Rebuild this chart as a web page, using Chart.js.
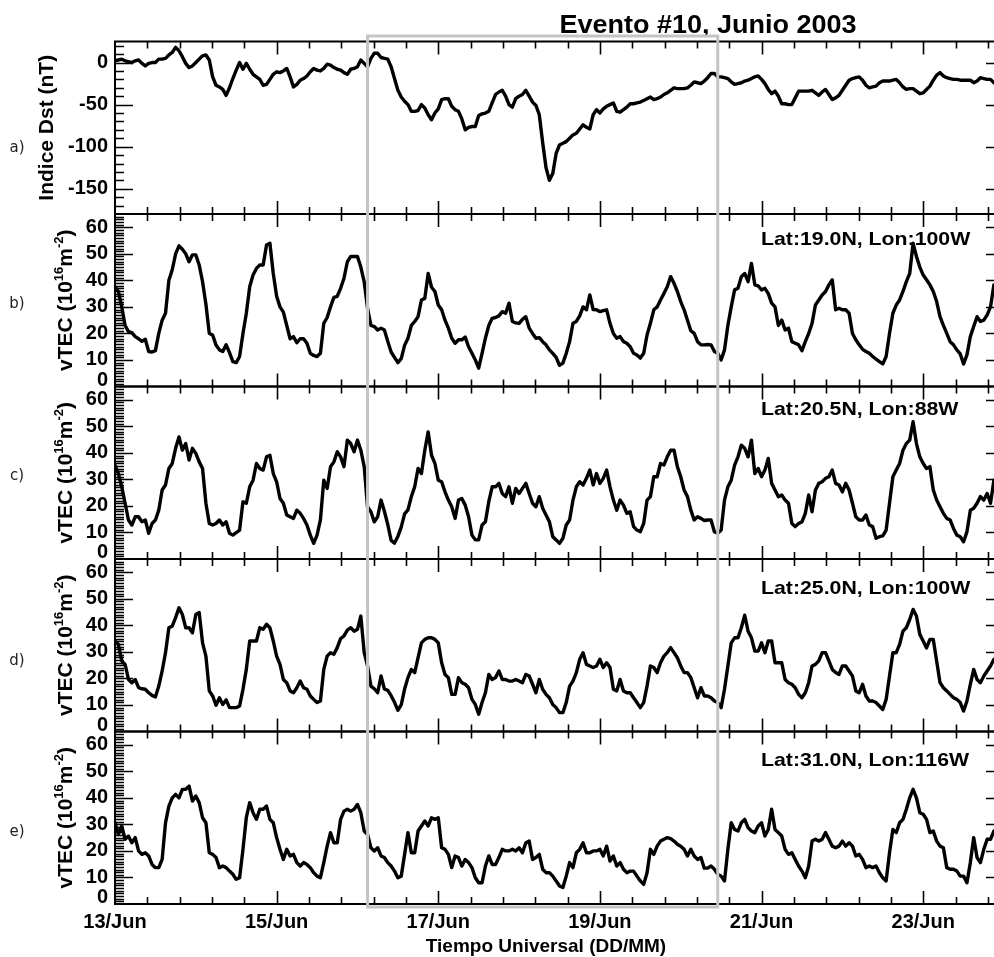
<!DOCTYPE html>
<html>
<head>
<meta charset="utf-8">
<title>Evento #10, Junio 2003</title>
<script src="https://cdn.jsdelivr.net/npm/chart.js@4.4.1/dist/chart.umd.min.js"></script>
<style>
  html, body { margin: 0; padding: 0; background: #fff; overflow: hidden; }
  #fig { position: relative; width: 1010px; height: 957px; }
  #fig canvas { position: absolute; left: 0; top: 0; }
</style>
</head>
<body>
<div id="fig">
  <canvas id="dstChart" width="1010" height="957"></canvas>
  <canvas id="tecB" width="1010" height="957"></canvas>
  <canvas id="tecC" width="1010" height="957"></canvas>
  <canvas id="tecD" width="1010" height="957"></canvas>
  <canvas id="tecE" width="1010" height="957"></canvas>
</div>
<script>
// hourly values starting 13/Jun 00 UT
const dst = [
  2,3,4,2,1,0,2,3,-1,-4,
  -1,0,0,4,4,5,9,12,18,14,
  7,-1,-6,-4,0,4,8,9,3,-17,
  -27,-29,-32,-39,-30,-19,-9,0,-8,-1,
  -8,-14,-17,-20,-27,-26,-20,-14,-11,-12,
  -10,-7,-17,-29,-26,-21,-19,-16,-11,-7,
  -9,-10,-7,-2,-3,-6,-8,-9,-12,-14,
  -8,-7,-5,3,-1,-5,5,11,11,6,
  5,4,-5,-19,-33,-41,-46,-50,-58,-58,
  -57,-50,-54,-62,-68,-60,-55,-44,-43,-43,
  -52,-56,-58,-67,-80,-77,-76,-76,-63,-61,
  -60,-58,-48,-38,-35,-33,-40,-50,-53,-43,
  -40,-38,-33,-40,-47,-51,-62,-95,-125,-140,
  -132,-108,-98,-96,-94,-90,-86,-84,-79,-74,
  -77,-79,-62,-56,-60,-55,-52,-50,-48,-58,
  -59,-56,-53,-49,-49,-48,-47,-45,-43,-41,
  -44,-43,-41,-38,-36,-33,-30,-31,-31,-31,
  -30,-27,-23,-24,-25,-22,-18,-13,-13,-17,
  -17,-18,-19,-23,-26,-25,-24,-22,-21,-19,
  -17,-16,-20,-25,-32,-37,-34,-40,-49,-49,
  -50,-50,-42,-34,-34,-34,-34,-33,-36,-39,
  -35,-32,-38,-44,-42,-39,-33,-27,-21,-19,
  -18,-17,-21,-27,-30,-29,-28,-24,-22,-22,
  -22,-21,-20,-24,-29,-32,-31,-31,-34,-37,
  -36,-32,-28,-21,-15,-12,-16,-18,-19,-20,
  -20,-21,-21,-21,-21,-24,-22,-18,-19,-20,
  -20,-24,-25,-25
];

// vTEC, 10^16 m^-2, one value per hour
const tec19N100W = [
  37.6,35.8,30.0,23.0,20.7,20.3,18.8,18.0,17.0,17.8,
  13.2,13.0,13.5,20.0,25.0,27.6,40.0,44.0,50.0,53.0,
  51.7,50.0,47.0,49.6,49.6,45.8,39.5,31.0,20.0,19.4,
  15.6,13.8,13.2,15.7,12.8,9.4,9.0,11.3,20.0,27.6,
  37.6,42.0,44.5,45.8,45.8,53.3,54.0,42.6,34.0,30.0,
  28.0,23.0,18.0,18.8,16.5,18.0,18.0,16.3,12.5,11.7,
  11.3,12.5,23.8,26.0,30.0,33.6,34.0,37.0,40.8,47.0,
  49.0,49.0,49.0,45.0,39.4,29.5,23.0,22.6,21.3,22.0,
  21.3,17.0,13.0,11.0,9.0,10.5,15.5,18.2,23.0,24.5,
  26.3,32.6,33.2,42.6,37.4,35.8,30.7,28.9,25.0,22.0,
  18.2,16.3,17.6,17.6,18.6,15.0,12.5,10.0,6.9,12.5,
  18.2,23.0,25.7,26.0,26.6,28.2,27.6,31.4,24.5,24.0,
  23.8,25.3,26.3,22.0,20.0,18.2,18.4,16.9,15.7,13.8,
  12.5,11.0,8.0,8.8,12.5,16.9,23.8,24.5,26.6,30.0,
  28.9,34.5,29.0,28.9,28.2,28.6,28.9,23.8,20.0,18.2,
  18.8,16.9,16.3,15.0,12.5,11.9,10.7,12.5,19.4,23.8,
  28.9,30.0,32.6,35.0,37.6,41.4,38.9,35.8,32.0,28.9,
  25.0,21.0,20.0,16.9,15.7,15.7,15.8,15.7,13.2,12.5,
  10.0,13.8,23.0,30.0,36.4,37.0,41.4,42.6,39.5,46.4,
  38.3,37.9,36.4,37.0,35.0,31.4,30.0,23.0,25.0,21.3,
  22.0,16.9,16.3,15.7,13.5,16.9,20.0,23.8,30.7,32.6,
  34.5,35.8,38.3,40.2,28.9,29.5,28.9,28.9,27.6,20.0,
  17.6,15.7,14.0,13.2,12.5,11.3,10.3,9.4,8.5,11.3,
  20.0,27.6,30.7,32.6,35.8,39.5,42.6,54.0,49.0,45.0,
  42.0,40.2,38.3,35.8,32.0,26.3,23.0,20.0,16.9,15.7,
  13.8,12.3,8.5,11.9,18.8,22.6,26.3,24.5,25.0,27.0,
  30.0,38.3,38.0,39.0
];

const tec20N88W = [
  35.4,32.2,27.2,21.0,14.7,12.8,15.9,15.9,14.0,14.7,
  9.7,13.4,14.7,18.4,26.0,27.9,34.1,36.0,41.7,46.0,
  41.0,43.5,37.3,41.7,39.8,36.6,34.1,21.0,13.4,12.8,
  13.4,14.7,12.8,14.0,9.7,9.0,9.9,10.9,21.6,21.0,
  27.2,29.7,36.0,34.1,33.5,38.5,39.1,32.2,29.1,22.8,
  21.0,16.6,15.9,15.3,18.4,17.2,15.3,12.8,9.0,5.9,
  9.0,14.7,29.7,26.6,34.8,36.6,40.4,38.5,34.8,44.8,
  43.5,40.4,44.8,41.0,34.8,19.6,17.8,14.0,15.9,22.2,
  18.0,13.0,7.0,6.0,8.5,12.0,17.0,18.5,23.5,27.2,
  34.1,32.2,41.0,47.9,39.1,36.0,29.7,29.1,25.3,22.2,
  19.7,15.3,22.2,22.8,20.3,15.9,9.0,7.2,7.2,12.8,
  14.0,21.6,27.2,27.2,28.5,24.7,23.5,27.2,21.0,26.6,
  24.7,26.6,28.5,24.7,21.0,19.7,23.5,19.1,16.6,14.0,
  8.4,7.2,5.9,7.8,12.8,14.7,22.2,27.2,29.1,27.9,
  30.4,33.5,27.9,32.2,28.5,30.4,33.5,27.2,22.2,18.4,
  22.2,20.3,17.2,17.8,12.2,10.9,10.3,13.4,22.2,23.5,
  31.0,31.0,36.0,35.4,38.5,41.0,41.0,34.8,31.0,26.0,
  23.5,18.4,14.7,15.9,15.3,14.5,14.7,14.7,10.3,9.7,
  10.9,22.2,27.2,29.7,35.4,38.5,42.9,41.7,38.5,44.8,
  32.2,34.1,31.0,33.5,37.9,28.5,26.0,23.5,24.1,22.2,
  21.0,13.4,12.2,13.4,14.0,17.2,24.1,17.8,26.0,28.5,
  29.1,30.4,31.0,33.5,28.5,27.9,25.3,28.5,26.0,21.0,
  15.9,14.7,14.7,16.6,12.8,12.2,7.8,8.4,8.7,10.9,
  21.0,31.0,33.5,36.0,41.0,43.5,44.8,51.7,43.5,38.5,
  36.0,34.1,34.8,26.0,22.2,19.7,17.2,15.3,14.7,11.5,
  9.0,8.4,6.5,10.3,18.4,19.1,21.0,23.5,22.2,24.7,
  21.0,29.7,30.0,31.0
];

const tec25N100W = [
  34.0,32.8,26.6,25.3,19.6,18.4,19.6,16.5,16.1,15.9,
  14.6,13.6,13.0,17.1,22.8,29.7,39.1,39.7,42.9,46.6,
  44.1,39.1,39.1,37.2,44.1,44.8,33.4,28.4,15.3,13.4,
  9.9,12.7,10.2,11.9,9.0,9.0,9.0,9.6,15.9,23.4,
  34.1,34.1,34.1,39.1,38.5,40.4,39.1,34.1,28.4,25.3,
  19.6,18.4,15.3,14.6,16.5,19.0,16.5,15.9,13.4,12.1,
  10.9,11.5,23.4,28.4,29.7,29.1,31.6,35.0,36.0,38.2,
  39.1,37.8,38.5,43.5,29.7,24.7,17.1,16.1,14.6,20.9,
  16.0,15.5,13.5,11.0,8.0,10.0,16.0,20.3,23.4,22.2,
  27.8,33.4,34.7,35.3,35.3,34.7,33.4,25.9,21.5,20.3,
  14.0,14.0,20.3,18.4,17.8,16.5,12.1,10.2,6.5,10.9,
  14.6,21.5,19.6,20.3,22.8,19.6,19.6,19.0,19.0,19.6,
  19.0,18.4,21.5,20.9,17.8,14.6,19.6,15.9,14.0,12.7,
  10.2,9.0,7.1,7.1,10.9,17.1,19.0,22.2,27.2,29.7,
  25.3,24.7,24.1,24.7,27.2,24.1,25.9,24.1,15.9,15.3,
  19.6,15.3,14.6,14.6,12.7,10.9,9.0,10.9,17.1,24.7,
  24.1,22.2,25.9,28.4,29.7,31.6,29.7,27.8,24.7,22.2,
  22.2,20.3,16.5,12.7,16.5,13.4,13.4,12.7,11.5,10.9,
  9.0,15.9,24.7,33.4,35.3,35.3,39.1,43.8,37.8,35.3,
  30.3,30.3,33.4,29.7,34.1,34.1,25.9,25.9,25.9,19.6,
  18.4,17.8,16.5,14.0,12.7,14.6,18.4,24.7,25.3,26.6,
  29.7,29.7,26.6,23.4,22.2,21.5,24.7,24.7,22.8,20.9,
  15.3,14.6,17.8,13.4,11.5,11.5,10.9,9.6,8.3,12.1,
  20.9,29.7,29.7,32.8,37.8,39.1,42.2,46.0,43.5,36.6,
  34.1,31.5,34.7,34.7,26.6,18.4,16.5,15.3,14.0,12.7,
  12.1,10.9,7.7,11.5,17.8,23.4,19.6,18.4,20.9,22.8,
  24.7,27.2,28.0,29.0
];

const tec31N116W = [
  30.6,26.2,29.4,24.4,25.6,23.1,25.0,20.0,18.7,19.3,
  18.1,14.9,13.7,13.7,16.8,30.6,36.9,40.0,41.3,40.0,
  43.2,43.2,44.4,38.8,40.7,38.2,32.5,30.6,19.3,18.7,
  17.5,13.7,14.3,13.7,12.4,11.2,9.3,9.9,20.6,32.6,
  38.2,34.4,31.9,35.7,35.7,36.9,31.9,30.6,25.0,20.6,
  16.8,20.6,18.1,18.7,15.6,14.3,15.6,14.9,13.7,11.8,
  10.5,9.9,15.6,21.8,26.9,23.1,23.1,31.9,35.0,35.7,
  35.0,35.7,37.5,34.4,27.5,26.2,21.2,20.0,21.2,18.1,
  17.5,15.6,14.3,12.4,9.9,10.5,18.7,26.9,19.3,19.3,
  27.5,29.4,31.3,29.4,32.5,31.9,32.5,21.2,20.6,18.7,
  13.7,18.1,17.5,14.3,16.8,15.6,13.7,9.9,8.0,8.0,
  14.3,18.1,14.9,14.9,17.5,20.6,20.0,20.0,20.6,20.0,
  21.2,19.3,23.1,23.7,16.8,17.5,18.7,13.1,11.8,11.8,
  10.5,8.7,6.8,6.2,10.5,15.6,13.7,19.3,20.6,23.1,
  19.3,19.3,20.0,20.0,20.6,18.1,21.8,16.2,18.1,14.3,
  15.6,13.1,11.8,12.4,12.4,10.5,8.7,7.4,11.8,20.6,
  18.7,21.8,23.7,24.4,25.0,24.6,23.7,22.5,21.8,20.6,
  18.1,20.6,18.1,16.8,17.5,13.5,13.5,14.3,13.1,11.2,
  10.5,8.7,20.6,30.6,28.1,27.5,30.6,31.9,28.8,27.5,
  26.9,29.4,30.6,25.6,28.1,35.7,28.1,26.9,25.6,20.6,
  18.7,19.3,16.8,14.3,12.4,9.9,14.3,23.7,24.4,23.7,
  24.4,26.9,24.4,21.8,21.2,21.8,23.7,21.8,23.1,21.8,
  18.1,18.7,16.8,13.7,14.3,13.7,14.3,11.8,9.9,8.7,
  19.3,28.1,26.9,30.6,31.9,35.7,40.0,43.2,40.0,34.4,
  33.8,31.9,26.9,27.5,23.7,21.8,21.2,13.7,13.1,13.1,
  12.4,10.5,10.5,8.0,15.6,25.0,17.5,15.6,20.6,24.4,
  24.4,27.5,28.0,28.5
];

// x axis: days since 13/Jun 00 UT
const dayTickPos = [0, 2, 4, 6, 8, 10];
const dayTickLabels = ['13/Jun', '15/Jun', '17/Jun', '19/Jun', '21/Jun', '23/Jun'];
const dstTicks = [-150, -100, -50, 0];
const tecTicks = [0, 10, 20, 30, 40, 50, 60];
const panelTags = ['a)', 'b)', 'c)', 'd)', 'e)'];
const stations = ['', 'Lat:19.0N, Lon:100W', 'Lat:20.5N, Lon:88W', 'Lat:25.0N, Lon:100W', 'Lat:31.0N, Lon:116W'];
// storm window marked with the grey box (days since 13/Jun)
const stormWindow = [3.125, 7.458];

const W = 1010, H = 957, PLOT_RIGHT = 1004, PLOT_LEFT = 115;
const FONT = '"Liberation Sans", Arial, Helvetica, sans-serif';
Chart.defaults.font.family = FONT;
Chart.defaults.color = '#000';

const dstTitle = [{ text: 'Indice Dst (nT)' }];
const tecTitle = [{ text: 'vTEC (10' }, { text: '16', sup: true }, { text: 'm' }, { text: '-2', sup: true }, { text: ')' }];

const panels = [
  { canvas: 'dstChart', values: dst, top: 41.5, bottom: 214, min: -180, max: 25, ticks: dstTicks, minor: 10, title: dstTitle, titleX: 53, tagY: 148, labelDy: 0 },
  { canvas: 'tecB', values: tec19N100W, top: 214, bottom: 386.5, min: 0, max: 65, ticks: tecTicks, minor: 1, title: tecTitle, titleX: 72, tagY: 304, labelDy: 30.5 },
  { canvas: 'tecC', values: tec20N88W, top: 386.5, bottom: 559, min: 0, max: 65, ticks: tecTicks, minor: 1, title: tecTitle, titleX: 72, tagY: 476, labelDy: 28.5 },
  { canvas: 'tecD', values: tec25N100W, top: 559, bottom: 731.5, min: 0, max: 65, ticks: tecTicks, minor: 1, title: tecTitle, titleX: 72, tagY: 661, labelDy: 35 },
  { canvas: 'tecE', values: tec31N116W, top: 731.5, bottom: 904, min: 0, max: 65, ticks: tecTicks, minor: 1, title: tecTitle, titleX: 72, tagY: 832, labelDy: 34 }
];

// bold text with a horizontal stretch factor
function wideText(ctx, text, x, y, size, sx, align) {
  ctx.save();
  ctx.font = 'bold ' + size + 'px ' + FONT;
  ctx.translate(x, y);
  ctx.scale(sx, 1);
  ctx.textAlign = align;
  ctx.textBaseline = 'alphabetic';
  ctx.fillStyle = '#000';
  ctx.fillText(text, 0, 0);
  ctx.restore();
}

// rotated axis title with superscripts, reading bottom to top
function verticalTitle(ctx, parts, baseX, centerY, size) {
  const big = 'bold ' + size + 'px ' + FONT;
  const small = 'bold ' + Math.round(size * 0.62) + 'px ' + FONT;
  const widths = parts.map(p => { ctx.font = p.sup ? small : big; return ctx.measureText(p.text).width; });
  const total = widths.reduce((s, w) => s + w, 0);
  ctx.save();
  ctx.translate(baseX, centerY);
  ctx.rotate(-Math.PI / 2);
  ctx.textAlign = 'left';
  ctx.textBaseline = 'alphabetic';
  ctx.fillStyle = '#000';
  let x = -total / 2;
  parts.forEach((p, i) => {
    ctx.font = p.sup ? small : big;
    ctx.fillText(p.text, x, p.sup ? -size * 0.42 : 0);
    x += widths[i];
  });
  ctx.restore();
}

const axesFrame = {
  id: 'axesFrame',
  afterDraw(chart, args, o) {
    const { ctx, chartArea: a, scales: { x, y } } = chart;
    ctx.save();
    ctx.strokeStyle = '#000';
    ctx.lineCap = 'butt';

    // inward ticks on the y axis, both sides
    ctx.lineWidth = 1.6;
    ctx.beginPath();
    for (let v = y.min + o.minor; v < y.max; v += o.minor) {
      const len = o.ticks.includes(v) ? 18 : 9;
      const py = Math.round(y.getPixelForValue(v)) + 0.5;
      ctx.moveTo(a.left, py); ctx.lineTo(a.left + len, py);
      ctx.moveTo(a.right, py); ctx.lineTo(a.right - len, py);
    }
    // x ticks every 0.4 day, long ones every 2 days, top and bottom
    for (let k = 1; k * 0.4 < x.max; k++) {
      const len = k % 5 === 0 ? 13 : 7;
      const px = Math.round(x.getPixelForValue(k * 0.4)) + 0.5;
      ctx.moveTo(px, a.top); ctx.lineTo(px, a.top + len);
      ctx.moveTo(px, a.bottom); ctx.lineTo(px, a.bottom - len);
    }
    ctx.stroke();

    ctx.lineWidth = 2;
    ctx.strokeRect(a.left, a.top, a.right - a.left, a.bottom - a.top);

    // the zero label sits on the bottom edge, kept inside the panel
    if (y.min === 0) {
      ctx.font = 'bold 20px ' + FONT;
      ctx.fillStyle = '#000';
      ctx.textAlign = 'right';
      ctx.textBaseline = 'middle';
      ctx.fillText('0', a.left - 7, y.getPixelForValue(0) - 6.5);
    }

    // panel letter
    ctx.font = '15px "DejaVu Sans", ' + FONT;
    ctx.fillStyle = '#222';
    ctx.textAlign = 'center';
    ctx.textBaseline = 'middle';
    ctx.fillText(o.tag, 17, o.tagY);

    verticalTitle(ctx, o.title, o.titleX, (a.top + a.bottom) / 2, 21);
    if (o.station) wideText(ctx, o.station, 761, a.top + o.labelDy, 19, 1.12, 'left');
    if (o.heading) wideText(ctx, o.heading, 708, 33, 25, 1.08, 'center');

    if (o.last) {
      wideText(ctx, 'Tiempo Universal (DD/MM)', 546, 952, 19, 1, 'center');
      // storm window box across all panels
      ctx.strokeStyle = '#c4c4c4';
      ctx.lineWidth = 3;
      const x0 = x.getPixelForValue(stormWindow[0]);
      const x1 = x.getPixelForValue(stormWindow[1]);
      ctx.strokeRect(x0, 36, x1 - x0, 907 - 36);
    }
    ctx.restore();
  }
};

panels.forEach((p, i) => {
  const last = i === panels.length - 1;
  new Chart(document.getElementById(p.canvas), {
    type: 'line',
    data: {
      datasets: [{
        data: p.values.map((v, h) => ({ x: h / 24, y: v })),
        borderColor: '#000',
        borderWidth: 3.4,
        borderJoinStyle: 'round',
        borderCapStyle: 'round',
        pointRadius: 0,
        tension: 0,
        fill: false
      }]
    },
    options: {
      responsive: false,
      animation: false,
      devicePixelRatio: 1,
      events: [],
      layout: { padding: { left: 0, right: W - PLOT_RIGHT, top: p.top, bottom: last ? 0 : H - p.bottom } },
      plugins: {
        legend: { display: false },
        tooltip: { enabled: false },
        axesFrame: {
          ticks: p.ticks, minor: p.minor, tag: panelTags[i], tagY: p.tagY,
          title: p.title, titleX: p.titleX, station: stations[i], labelDy: p.labelDy,
          heading: i === 0 ? 'Evento #10, Junio 2003' : '', last: last
        }
      },
      scales: {
        x: {
          type: 'linear',
          min: 0,
          max: 11,
          display: last,
          grid: { display: false, drawTicks: false },
          border: { display: false },
          afterBuildTicks: s => { s.ticks = dayTickPos.map(v => ({ value: v })); },
          afterFit: s => { s.height = last ? H - p.bottom : 0; s.paddingLeft = 0; s.paddingRight = 0; },
          ticks: {
            autoSkip: false,
            maxRotation: 0,
            padding: 6,
            font: { size: 20, weight: 'bold' },
            callback: v => dayTickLabels[dayTickPos.indexOf(v)]
          }
        },
        y: {
          type: 'linear',
          min: p.min,
          max: p.max,
          grid: { display: false, drawTicks: false },
          border: { display: false },
          afterBuildTicks: s => { s.ticks = p.ticks.map(v => ({ value: v })); },
          afterFit: s => { s.width = PLOT_LEFT; s.paddingTop = 0; s.paddingBottom = 0; },
          ticks: {
            padding: 7,
            font: { size: 20, weight: 'bold' },
            // zero is drawn by the frame plugin
            callback: v => (v === 0 && p.min === 0 ? '' : String(v))
          }
        }
      }
    },
    plugins: [axesFrame]
  });
});
</script>
</body>
</html>
